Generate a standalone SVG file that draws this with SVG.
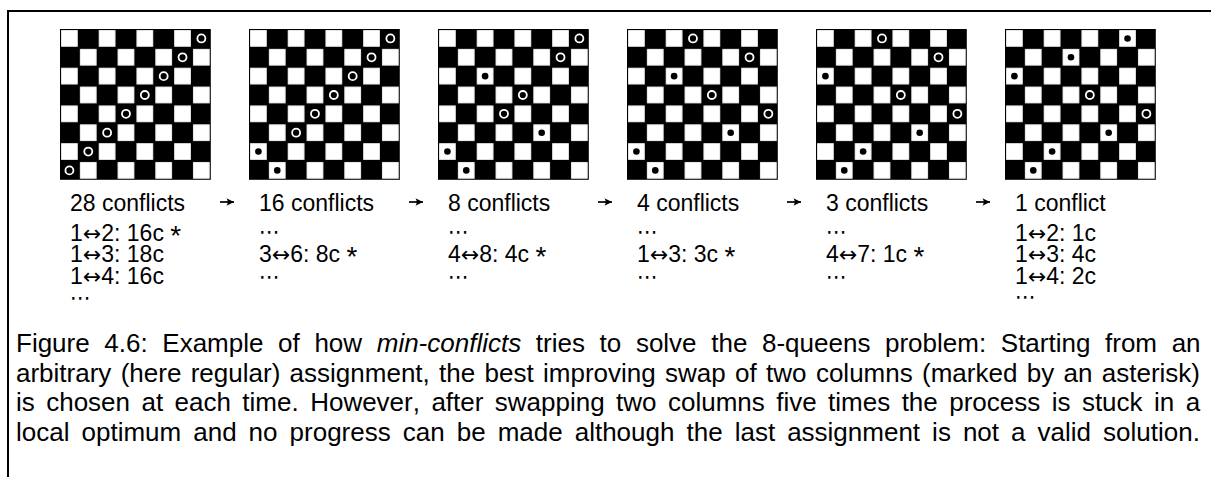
<svg xmlns="http://www.w3.org/2000/svg" xmlns:xlink="http://www.w3.org/1999/xlink" width="1211" height="477" viewBox="0 0 1211 477">
<style>
text{font-family:"Liberation Sans",Arial,sans-serif;fill:#000;font-kerning:none}
.lbl{font-size:23px}
.ast{font-size:28px}
.lr{font-family:"DejaVu Sans",sans-serif;font-size:22px}
.dots{font-family:"DejaVu Sans",sans-serif;font-size:21px}
.cap{font-size:26px}
.ring{fill:none;stroke:#fff;stroke-width:1.8}
.dot{fill:#000}
.frame{stroke:#000;stroke-width:2;fill:none}
.arr{stroke:#000;stroke-width:1.7;fill:none}
</style>
<defs>
<pattern id="chk" patternUnits="userSpaceOnUse" width="37.7" height="37.7">
<rect x="1.1" y="1.1" width="16.65" height="16.65" fill="#fff"/>
<rect x="19.95" y="19.95" width="16.65" height="16.65" fill="#fff"/>
</pattern>
<g id="board">
<rect width="150.8" height="150.8" fill="#000"/>
<rect width="150.8" height="150.8" fill="url(#chk)"/>
</g>
<marker id="head" markerWidth="10" markerHeight="10" refX="8" refY="5" orient="auto" markerUnits="userSpaceOnUse">
<path d="M8,5 L0.5,1.2 Q3,5 0.5,8.8 Z" fill="#000"/>
</marker>
</defs>

<path class="frame" d="M8,477 V11 H1211"/>

<g id="board1" transform="translate(60,29)">
<use xlink:href="#board"/>
<circle class="ring" cx="141.375" cy="9.425" r="4"/>
<circle class="ring" cx="122.525" cy="28.275" r="4"/>
<circle class="ring" cx="103.675" cy="47.125" r="4"/>
<circle class="ring" cx="84.825" cy="65.975" r="4"/>
<circle class="ring" cx="65.975" cy="84.825" r="4"/>
<circle class="ring" cx="47.125" cy="103.675" r="4"/>
<circle class="ring" cx="28.275" cy="122.525" r="4"/>
<circle class="ring" cx="9.425" cy="141.375" r="4"/>
</g>
<g id="board2" transform="translate(249,29)">
<use xlink:href="#board"/>
<circle class="ring" cx="141.375" cy="9.425" r="4"/>
<circle class="ring" cx="122.525" cy="28.275" r="4"/>
<circle class="ring" cx="103.675" cy="47.125" r="4"/>
<circle class="ring" cx="84.825" cy="65.975" r="4"/>
<circle class="ring" cx="65.975" cy="84.825" r="4"/>
<circle class="ring" cx="47.125" cy="103.675" r="4"/>
<circle class="dot" cx="9.425" cy="122.525" r="3.3"/>
<circle class="dot" cx="28.275" cy="141.375" r="3.3"/>
</g>
<g id="board3" transform="translate(438,29)">
<use xlink:href="#board"/>
<circle class="ring" cx="141.375" cy="9.425" r="4"/>
<circle class="ring" cx="122.525" cy="28.275" r="4"/>
<circle class="dot" cx="47.125" cy="47.125" r="3.3"/>
<circle class="ring" cx="84.825" cy="65.975" r="4"/>
<circle class="ring" cx="65.975" cy="84.825" r="4"/>
<circle class="dot" cx="103.675" cy="103.675" r="3.3"/>
<circle class="dot" cx="9.425" cy="122.525" r="3.3"/>
<circle class="dot" cx="28.275" cy="141.375" r="3.3"/>
</g>
<g id="board4" transform="translate(627,29)">
<use xlink:href="#board"/>
<circle class="ring" cx="65.975" cy="9.425" r="4"/>
<circle class="ring" cx="122.525" cy="28.275" r="4"/>
<circle class="dot" cx="47.125" cy="47.125" r="3.3"/>
<circle class="ring" cx="84.825" cy="65.975" r="4"/>
<circle class="ring" cx="141.375" cy="84.825" r="4"/>
<circle class="dot" cx="103.675" cy="103.675" r="3.3"/>
<circle class="dot" cx="9.425" cy="122.525" r="3.3"/>
<circle class="dot" cx="28.275" cy="141.375" r="3.3"/>
</g>
<g id="board5" transform="translate(816,29)">
<use xlink:href="#board"/>
<circle class="ring" cx="65.975" cy="9.425" r="4"/>
<circle class="ring" cx="122.525" cy="28.275" r="4"/>
<circle class="dot" cx="9.425" cy="47.125" r="3.3"/>
<circle class="ring" cx="84.825" cy="65.975" r="4"/>
<circle class="ring" cx="141.375" cy="84.825" r="4"/>
<circle class="dot" cx="103.675" cy="103.675" r="3.3"/>
<circle class="dot" cx="47.125" cy="122.525" r="3.3"/>
<circle class="dot" cx="28.275" cy="141.375" r="3.3"/>
</g>
<g id="board6" transform="translate(1005,29)">
<use xlink:href="#board"/>
<circle class="dot" cx="122.525" cy="9.425" r="3.3"/>
<circle class="dot" cx="65.975" cy="28.275" r="3.3"/>
<circle class="dot" cx="9.425" cy="47.125" r="3.3"/>
<circle class="ring" cx="84.825" cy="65.975" r="4"/>
<circle class="ring" cx="141.375" cy="84.825" r="4"/>
<circle class="dot" cx="103.675" cy="103.675" r="3.3"/>
<circle class="dot" cx="47.125" cy="122.525" r="3.3"/>
<circle class="dot" cx="28.275" cy="141.375" r="3.3"/>
</g>

<g id="connectors">
<line class="arr" x1="220" y1="202" x2="234" y2="202" marker-end="url(#head)"/>
<line class="arr" x1="409" y1="202" x2="423" y2="202" marker-end="url(#head)"/>
<line class="arr" x1="598" y1="202" x2="612" y2="202" marker-end="url(#head)"/>
<line class="arr" x1="787" y1="202" x2="801" y2="202" marker-end="url(#head)"/>
<line class="arr" x1="976" y1="202" x2="990" y2="202" marker-end="url(#head)"/>
</g>

<g id="label1" class="lbl">
<text x="70" y="210.5">28 conflicts</text>
<text x="70" y="241">1<tspan class="lr">↔</tspan>2: 16c <tspan class="ast" dy="4">*</tspan></text>
<text x="70" y="262">1<tspan class="lr">↔</tspan>3: 18c</text>
<text x="70" y="283.5">1<tspan class="lr">↔</tspan>4: 16c</text>
<text class="dots" x="70" y="305">⋯</text>
</g>
<g id="label2" class="lbl">
<text x="259" y="210.5">16 conflicts</text>
<text class="dots" x="259" y="239">⋯</text>
<text x="259" y="262">3<tspan class="lr">↔</tspan>6: 8c <tspan class="ast" dy="4">*</tspan></text>
<text class="dots" x="259" y="283.5">⋯</text>
</g>
<g id="label3" class="lbl">
<text x="448" y="210.5">8 conflicts</text>
<text class="dots" x="448" y="239">⋯</text>
<text x="448" y="262">4<tspan class="lr">↔</tspan>8: 4c <tspan class="ast" dy="4">*</tspan></text>
<text class="dots" x="448" y="283.5">⋯</text>
</g>
<g id="label4" class="lbl">
<text x="637" y="210.5">4 conflicts</text>
<text class="dots" x="637" y="239">⋯</text>
<text x="637" y="262">1<tspan class="lr">↔</tspan>3: 3c <tspan class="ast" dy="4">*</tspan></text>
<text class="dots" x="637" y="283.5">⋯</text>
</g>
<g id="label5" class="lbl">
<text x="826" y="210.5">3 conflicts</text>
<text class="dots" x="826" y="239">⋯</text>
<text x="826" y="262">4<tspan class="lr">↔</tspan>7: 1c <tspan class="ast" dy="4">*</tspan></text>
<text class="dots" x="826" y="283.5">⋯</text>
</g>
<g id="label6" class="lbl">
<text x="1015" y="210.5">1 conflict</text>
<text x="1015" y="241">1<tspan class="lr">↔</tspan>2: 1c</text>
<text x="1015" y="262">1<tspan class="lr">↔</tspan>3: 4c</text>
<text x="1015" y="283.5">1<tspan class="lr">↔</tspan>4: 2c</text>
<text class="dots" x="1015" y="304">⋯</text>
</g>

<g id="caption" class="cap">
<text x="16" y="352" style="word-spacing:7.4px">Figure 4.6: Example of how <tspan font-style="italic">min-conflicts</tspan> tries to solve the 8-queens problem: Starting from an</text>
<text x="16" y="381.5" style="word-spacing:2.1px">arbitrary (here regular) assignment, the best improving swap of two columns (marked by an asterisk)</text>
<text x="16" y="411" style="word-spacing:4.2px">is chosen at each time. However, after swapping two columns five times the process is stuck in a</text>
<text x="16" y="440.5" style="word-spacing:4.8px">local optimum and no progress can be made although the last assignment is not a valid solution.</text>
</g>
</svg>
